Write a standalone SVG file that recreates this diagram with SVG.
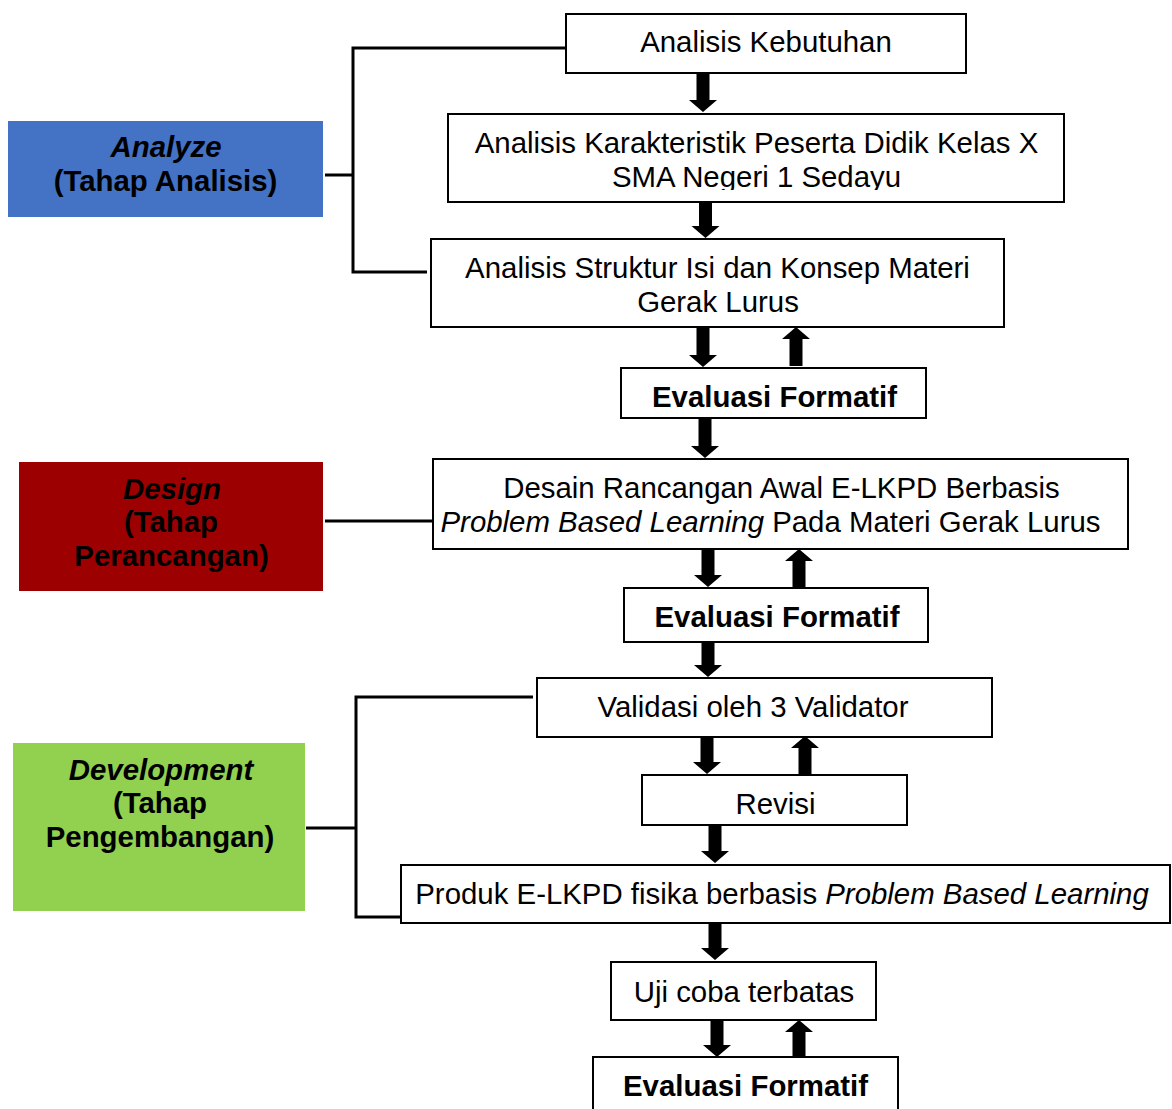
<svg xmlns="http://www.w3.org/2000/svg" width="1172" height="1109" viewBox="0 0 1172 1109">
<style>
.box{fill:#fff;stroke:#000;stroke-width:2}
.t{font-family:"Liberation Sans",Arial,sans-serif;font-size:29.4px;fill:#000;text-anchor:middle}
.b{font-weight:bold}
.i{font-style:italic}
.br{fill:none;stroke:#000;stroke-width:3}
.ar{fill:#000;stroke:none}
</style>
<defs>
<clipPath id="clip2"><rect x="448" y="114" width="617" height="76"/></clipPath>
</defs>
<rect width="1172" height="1109" fill="#fff"/>

<g id="connectors">
<polyline class="br" points="566,48 353,48 353,272 427,272"/>
<line class="br" x1="325" y1="175" x2="353" y2="175"/>
<line class="br" x1="325" y1="521" x2="433" y2="521"/>
<polyline class="br" points="533,697 356,697 356,917 400,917"/>
<line class="br" x1="306" y1="828" x2="356" y2="828"/>
<polygon class="ar" points="696.5,74 709.5,74 709.5,100 717,100 703,112 689,100 696.5,100"/>
<polygon class="ar" points="699,202 712,202 712,226 719.5,226 705.5,238 691.5,226 699,226"/>
<polygon class="ar" points="696.5,328 709.5,328 709.5,355 717,355 703,367 689,355 696.5,355"/>
<polygon class="ar" points="789.5,366 802.5,366 802.5,339 810,339 796,327 782,339 789.5,339"/>
<polygon class="ar" points="698.5,419 711.5,419 711.5,446 719,446 705,458 691,446 698.5,446"/>
<polygon class="ar" points="701.5,550 714.5,550 714.5,575 722,575 708,587 694,575 701.5,575"/>
<polygon class="ar" points="792.5,587 805.5,587 805.5,561 813,561 799,549 785,561 792.5,561"/>
<polygon class="ar" points="701.5,643 714.5,643 714.5,665 722,665 708,677 694,665 701.5,665"/>
<polygon class="ar" points="700.5,738 713.5,738 713.5,762 721,762 707,774 693,762 700.5,762"/>
<polygon class="ar" points="798.5,774 811.5,774 811.5,748 819,748 805,736 791,748 798.5,748"/>
<polygon class="ar" points="708.5,826 721.5,826 721.5,851 729,851 715,863 701,851 708.5,851"/>
<polygon class="ar" points="708.5,924 721.5,924 721.5,948 729,948 715,960 701,948 708.5,948"/>
<polygon class="ar" points="710.5,1021 723.5,1021 723.5,1045 731,1045 717,1057 703,1045 710.5,1045"/>
<polygon class="ar" points="792.5,1057 805.5,1057 805.5,1032 813,1032 799,1020 785,1032 792.5,1032"/>
</g>

<g id="analyze">
<rect x="8" y="121" width="315" height="96" fill="#4472C4"/>
<text class="t b i" x="166" y="157">Analyze</text>
<text class="t b" x="165.5" y="191">(Tahap Analisis)</text>
</g>

<g id="design">
<rect x="19" y="462" width="304" height="129" fill="#9C0000"/>
<text class="t b i" x="172" y="499">Design</text>
<text class="t b" x="171" y="532">(Tahap</text>
<text class="t b" x="171.5" y="566">Perancangan)</text>
</g>

<g id="development">
<rect x="13" y="743" width="292" height="168" fill="#92D050"/>
<text class="t b i" x="161" y="780">Development</text>
<text class="t b" x="160" y="813">(Tahap</text>
<text class="t b" x="160" y="847">Pengembangan)</text>
</g>

<g id="analisis-kebutuhan">
<rect class="box" x="566" y="14" width="400" height="59"/>
<text class="t" x="766" y="52">Analisis Kebutuhan</text>
</g>

<g id="analisis-karakteristik">
<rect class="box" x="448" y="114" width="616" height="88"/>
<g clip-path="url(#clip2)">
<text class="t" x="756.5" y="153">Analisis Karakteristik Peserta Didik Kelas X</text>
<text class="t" x="756.5" y="187">SMA Negeri 1 Sedayu</text>
</g>
</g>

<g id="analisis-struktur">
<rect class="box" x="431" y="239" width="573" height="88"/>
<text class="t" x="717.5" y="278">Analisis Struktur Isi dan Konsep Materi</text>
<text class="t" x="718" y="312">Gerak Lurus</text>
</g>

<g id="evaluasi-1">
<rect class="box" x="621" y="368" width="305" height="50"/>
<text class="t b" x="774.5" y="407">Evaluasi Formatif</text>
</g>

<g id="desain">
<rect class="box" x="433" y="459" width="695" height="90"/>
<text class="t" x="781.5" y="498">Desain Rancangan Awal E-LKPD Berbasis</text>
<text class="t" x="770.5" y="532"><tspan class="i">Problem Based Learning</tspan> Pada Materi Gerak Lurus</text>
</g>

<g id="evaluasi-2">
<rect class="box" x="624" y="588" width="304" height="54"/>
<text class="t b" x="777" y="627">Evaluasi Formatif</text>
</g>

<g id="validasi">
<rect class="box" x="537" y="678" width="455" height="59"/>
<text class="t" x="753" y="717">Validasi oleh 3 Validator</text>
</g>

<g id="revisi">
<rect class="box" x="642" y="775" width="265" height="50"/>
<text class="t" x="775.5" y="814">Revisi</text>
</g>

<g id="produk">
<rect class="box" x="401" y="865" width="769" height="58"/>
<text class="t" x="782" y="904">Produk E-LKPD fisika berbasis <tspan class="i">Problem Based Learning</tspan></text>
</g>

<g id="uji-coba">
<rect class="box" x="611" y="962" width="265" height="58"/>
<text class="t" x="744" y="1002">Uji coba terbatas</text>
</g>

<g id="evaluasi-3">
<rect class="box" x="593" y="1057" width="305" height="70"/>
<text class="t b" x="745.5" y="1096">Evaluasi Formatif</text>
</g>
</svg>
